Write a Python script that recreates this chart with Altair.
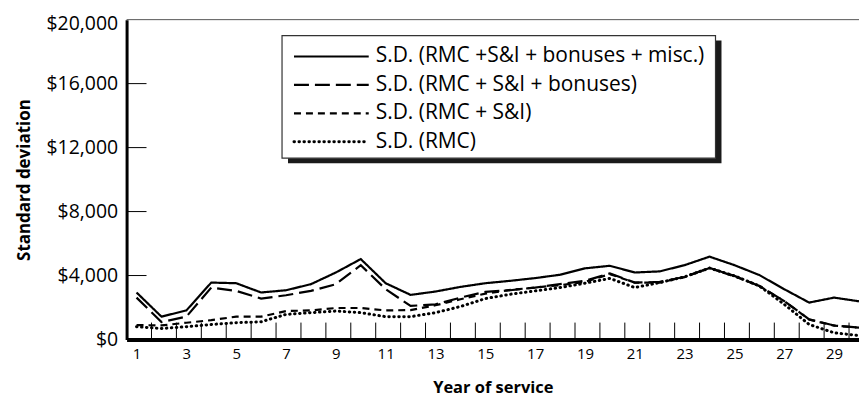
import altair as alt
import pandas as pd

years = list(range(1, 31))
sd_all = [2940, 1430, 1820, 3560, 3520, 2940, 3080, 3460, 4190, 5030,
          3520, 2790, 3000, 3290, 3520, 3670, 3840, 4050, 4450, 4610,
          4190, 4260, 4650, 5180, 4650, 4030, 3145, 2310, 2620, 2390]
sd_bonus = [2620, 1090, 1430, 3250, 3040, 2560, 2770, 3040, 3460, 4650,
            3145, 2100, 2200, 2620, 2980, 3080, 3250, 3460, 3670, 4130,
            3560, 3600, 3920, 4470, 3980, 3350, 2410, 1260, 880, 740]
sd_si = [900, 880, 1050, 1210, 1430, 1430, 1780, 1820, 1970, 1970,
         1820, 1840, 2140, 2520, 2870, 3100, 3250, 3400, 3600, 4090,
         3560, 3560, 3900, 4470, 3950, 3350, 2400, 1250, 870, 740]
sd_rmc = [800, 690, 800, 940, 1050, 1110, 1570, 1680, 1780, 1680,
          1430, 1430, 1680, 2060, 2560, 2830, 3040, 3250, 3520, 3820,
          3250, 3560, 3920, 4470, 3980, 3350, 2200, 940, 420, 250]

labels = ["S.D. (RMC +S&I + bonuses + misc.)", "S.D. (RMC + S&I + bonuses)",
          "S.D. (RMC + S&I)", "S.D. (RMC)"]
series = [sd_all, sd_bonus, sd_si, sd_rmc]
x_tick_labels = list(range(1, 30, 2))
y_ticks = [0, 4000, 8000, 12000, 16000, 20000]
x_minor_ticks = [n + 0.6 for n in range(1, 30)]

FONT = "Open Sans"
W, H = 735, 321
TOP = 11

xscale = alt.Scale(domain=[0.6, 30], nice=False, zero=False)
yscale = alt.Scale(domain=[0, 20000], nice=False)

x_enc = alt.X("year:Q", scale=xscale,
              axis=alt.Axis(values=x_tick_labels, title="Year of service", ticks=False,
                            labelFontSize=15, labelPadding=7, labelColor="black",
                            labelFont=FONT, titleFont=FONT, titleFontSize=16.5,
                            titleFontWeight="bold", titleColor="black", titlePadding=18,
                            domainColor="black", domainWidth=4, grid=False,
                            labelFlush=False))
y_enc = alt.Y("value:Q", scale=yscale,
              axis=alt.Axis(values=y_ticks, format="$,.0f", title="Standard deviation",
                            ticks=False, labelFontSize=19.5, labelPadding=9,
                            labelOffset={"condition": {"test": "datum.value === 20000", "value": 4},
                                         "value": 0},
                            labelColor="black", labelFont=FONT, titleFont=FONT,
                            titleFontSize=17, titleFontWeight="bold", titleColor="black",
                            titlePadding=12, domainColor="black", domainWidth=3, grid=False,
                            labelFlush=False))

dashes = [[1, 0], [15, 6], [7, 5], [0.5, 4.5]]
widths = [2.2, 2.2, 2.2, 3.0]
caps = ["butt", "butt", "butt", "round"]

line_layers = []
for lab, vals, d, w, c in zip(labels, series, dashes, widths, caps):
    df = pd.DataFrame({"year": years, "value": vals, "series": lab})
    line_layers.append(
        alt.Chart(df).mark_line(color="black", strokeWidth=w, strokeDash=d, strokeCap=c)
        .encode(x=x_enc, y=y_enc)
    )
line_layers = line_layers[::-1]

one = pd.DataFrame({"a": [0]})

# inward tick marks
xt = alt.Chart(pd.DataFrame({"year": x_minor_ticks})).mark_rule(color="black", strokeWidth=1).encode(
    x=alt.X("year:Q", scale=xscale), y=alt.value(H), y2=alt.value(H - 17))
yt = alt.Chart(pd.DataFrame({"value": y_ticks[1:-1]})).mark_rule(color="black", strokeWidth=1).encode(
    y=alt.Y("value:Q", scale=yscale), x=alt.value(0), x2=alt.value(20))
top = alt.Chart(one).mark_rule(color="#555", strokeWidth=1).encode(
    y=alt.value(0), x=alt.value(0), x2=alt.value(W))

# legend box (page coords minus plot origin)
oy = 8 + TOP
shadow = alt.Chart(one).mark_rect(color="#1a1a1a").encode(
    x=alt.value(162), x2=alt.value(597), y=alt.value(40 - oy), y2=alt.value(163 - oy))
box = alt.Chart(one).mark_rect(fill="white", stroke="#333", strokeWidth=1.2).encode(
    x=alt.value(156), x2=alt.value(591), y=alt.value(35 - oy), y2=alt.value(158 - oy))
leg_layers = [shadow, box]
row_y = [56 - oy, 84.5 - oy, 113 - oy, 141.5 - oy]
for lab, d, w, c, ry in zip(labels, dashes, widths, caps, row_y):
    leg_layers.append(alt.Chart(one).mark_rule(color="black", strokeWidth=w, strokeDash=d, strokeCap=c).encode(
        x=alt.value(168), x2=alt.value(243), y=alt.value(ry)))
    leg_layers.append(alt.Chart(one).mark_text(text=lab, align="left", baseline="middle",
                                               font=FONT, fontSize=21, color="black").encode(
        x=alt.value(250), y=alt.value(ry)))

chart = alt.layer(top, xt, yt, *line_layers, *leg_layers).properties(
    width=W, height=H,
    autosize=alt.AutoSizeParams(type="none"),
    padding={"left": 119, "top": TOP, "right": 0, "bottom": 58},
).configure_view(stroke=None)

chart.save("out.html", embed_options={"renderer": "svg", "actions": False})
